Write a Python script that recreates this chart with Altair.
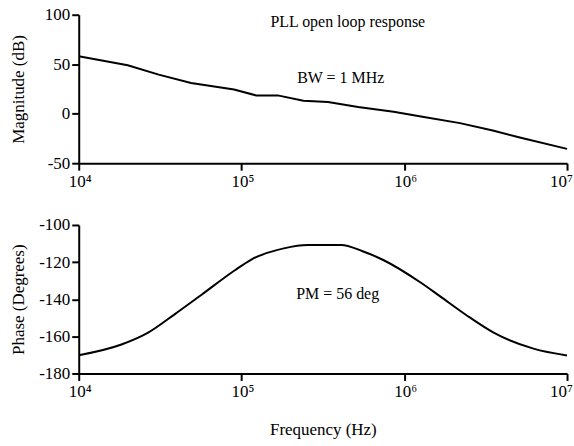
import altair as alt
import pandas as pd

# ---- data ----
mag_freq = [1e4, 2e4, 3.1e4, 4.9e4, 9e4, 1.23e5, 1.67e5, 2.4e5, 3.4e5, 5.2e5,
            8.6e5, 1.32e6, 2.2e6, 3.5e6, 5.2e6, 1e7]
mag_db = [58, 49, 39.5, 31, 24.5, 18.5, 18.5, 13, 11.8, 6.8,
          2, -3.4, -9.5, -16.9, -24.3, -35.5]

phase_freq = [1e4, 1.83e4, 2.67e4, 3.9e4, 5.66e4, 9.06e4, 1.15e5, 1.82e5, 2.55e5,
              4.1e5, 5.5e5, 7.48e5, 1.26e6, 1.67e6, 2.4e6, 3.54e6, 6.22e6, 1e7]
phase_deg = [-170.2, -164.4, -158, -148, -137.7, -124.5, -118.6, -112.6, -110.8,
             -110.8, -114, -119, -131, -138.6, -148.5, -158, -166.6, -170.3]

x_ticks = [10000, 100000, 1000000, 10000000]
x_tick_labels = ["10\u2074", "10\u2075", "10\u2076", "10\u2077"]
mag_ticks = [100, 50, 0, -50]
phase_ticks = [-100, -120, -140, -160, -180]

mag_notes = ["PLL open loop response", "BW = 1 MHz"]
mag_note_freq = [4.5e5, 4.07e5]
mag_note_val = [93, 36.5]
phase_notes = ["PM = 56 deg"]
phase_note_freq = [3.9e5]
phase_note_val = [-137]

FONT = "Liberation Serif"

label_expr = " : ".join(
    f"datum.value == {v} ? '{l}'" for v, l in zip(x_ticks, x_tick_labels)
) + " : ''"
last_tick = x_ticks[-1]

mag_df = pd.DataFrame({"f": mag_freq, "v": mag_db})
ph_df = pd.DataFrame({"f": phase_freq, "v": phase_deg})
mag_txt = pd.DataFrame({"f": mag_note_freq, "v": mag_note_val, "t": mag_notes})
ph_txt = pd.DataFrame({"f": phase_note_freq, "v": phase_note_val, "t": phase_notes})

W, H = 490, 149


def xenc(title):
    kw = dict(values=x_ticks, labelExpr=label_expr, tickSize=7, labelPadding=3,
              labelOverlap=False, labelFlush=False,
              labelOffset={"condition": {"test": f"datum.value == {last_tick}",
                                         "value": -6}, "value": 1})
    scale = alt.Scale(type="log", domain=[1e4, 1e7])
    if title:
        return alt.X("f:Q", scale=scale,
                     axis=alt.Axis(title=title, titlePadding=22, **kw))
    return alt.X("f:Q", scale=scale, axis=alt.Axis(title=None, **kw))


def yenc(title, dom, ticks):
    return alt.Y("v:Q", scale=alt.Scale(domain=dom, nice=False, zero=False),
                 axis=alt.Axis(title=title, values=ticks, tickSize=7, labelPadding=2,
                               labelOverlap=False, labelFlush=False,
                               labelExpr="'' + datum.value",
                               titleX=-51, titleY=H / 2, titleAngle=-90,
                               titleBaseline="bottom", titleAlign="center"))


top_line = alt.Chart(mag_df).mark_line(color="black", strokeWidth=2).encode(
    x=xenc(None), y=yenc("Magnitude (dB)", [-50, 100], mag_ticks))
top_text = alt.Chart(mag_txt).mark_text(font=FONT, fontSize=16, color="black").encode(
    x=xenc(None), y=yenc("Magnitude (dB)", [-50, 100], mag_ticks), text="t:N")
top = alt.layer(top_line, top_text).properties(width=W, height=H)

bot_line = alt.Chart(ph_df).mark_line(color="black", strokeWidth=2,
                                      interpolate="monotone").encode(
    x=xenc("Frequency (Hz)"), y=yenc("Phase (Degrees)", [-180, -100], phase_ticks))
bot_text = alt.Chart(ph_txt).mark_text(font=FONT, fontSize=16, color="black").encode(
    x=xenc("Frequency (Hz)"), y=yenc("Phase (Degrees)", [-180, -100], phase_ticks),
    text="t:N")
bot = alt.layer(bot_line, bot_text).properties(width=W, height=H)

chart = alt.vconcat(top, bot, spacing=62, bounds="flush").properties(
    padding={"left": 10, "top": 5, "right": 1, "bottom": 3},
    background="white",
).configure_view(stroke=None).configure_axis(
    grid=False,
    domainColor="black", domainWidth=2,
    tickColor="black", tickWidth=2,
    labelFont=FONT, labelFontSize=17, labelColor="black",
    titleFont=FONT, titleFontSize=17, titleColor="black", titleFontWeight="normal",
)

chart.save("out.html", embed_options={"renderer": "svg", "actions": False})
